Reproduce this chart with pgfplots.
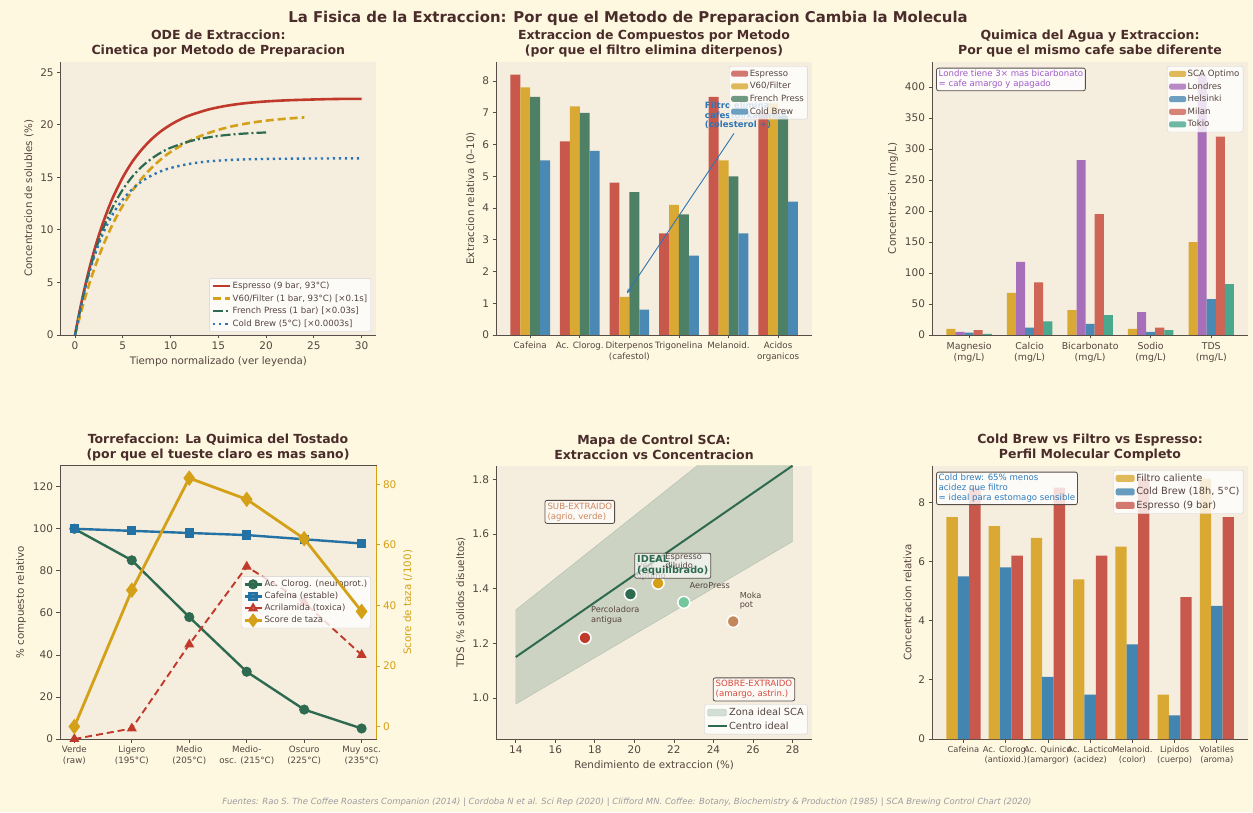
\documentclass[border=0pt]{standalone}
\usepackage{pgfplots}
\pgfplotsset{compat=1.18}
\usepackage{fontspec}
\setmainfont{DejaVu Sans}
\usetikzlibrary{arrows.meta}

\definecolor{figbg}{RGB}{254,248,225}
\definecolor{axbg}{RGB}{245,238,223}
\definecolor{titlec}{RGB}{74,44,42}
\definecolor{textc}{RGB}{85,68,63}
\definecolor{spinec}{RGB}{88,78,72}
\definecolor{footc}{RGB}{155,155,160}
\definecolor{lRed}{RGB}{192,57,43}
\definecolor{lGold}{RGB}{212,160,23}
\definecolor{lGreen}{RGB}{45,106,79}
\definecolor{lBlue}{RGB}{46,117,182}
\definecolor{lBlue2}{RGB}{36,113,163}
\definecolor{bRed}{RGB}{201,88,76}
\definecolor{bGold}{RGB}{217,169,51}
\definecolor{bGreen}{RGB}{78,128,102}
\definecolor{bBlue}{RGB}{74,137,179}
\definecolor{bPurple}{RGB}{167,110,185}
\definecolor{bTeal}{RGB}{74,168,142}
\definecolor{bRed3}{RGB}{206,101,86}
\definecolor{bBlue6}{RGB}{66,133,176}
\definecolor{annPurple}{RGB}{160,90,200}
\definecolor{annBlue}{RGB}{46,125,190}
\definecolor{pAero}{RGB}{116,198,157}
\definecolor{pMoka}{RGB}{196,135,90}
\definecolor{subc}{RGB}{205,135,95}
\definecolor{sobc}{RGB}{215,75,65}

\newcommand\fsTick{\fontsize{10.5}{12}\selectfont}
\newcommand\fsCat{\fontsize{8.7}{11}\selectfont}
\newcommand\fsLab{\fontsize{10.3}{12}\selectfont}
\newcommand\fsLeg{\fontsize{8.6}{10.2}\selectfont}
\newcommand\fsLegB{\fontsize{9.8}{11.5}\selectfont}
\newcommand\fsAnn{\fontsize{8.6}{9.9}\selectfont}
\newcommand\fsPt{\fontsize{8.2}{9.6}\selectfont}
\newcommand\fsTitle{\fontsize{12.5}{15}\selectfont\bfseries}
\newcommand\fsMain{\fontsize{14.9}{17}\selectfont\bfseries}
\newcommand\fsFoot{\fontsize{8.5}{10}\selectfont\itshape}

\pgfplotsset{
  base/.style={
    scale only axis, anchor=south west,
    width=316.3pt, height=273.3pt,
    axis background/.style={fill=axbg},
    axis line style={spinec, line width=0.9pt, -},
    tick style={spinec, line width=0.8pt},
    tick align=outside, major tick length=3.5pt,
    ticklabel style={text=textc, font=\fsTick},
    label style={text=textc, font=\fsLab},
    /pgf/number format/assume math mode=true,
    legend style={fill=white, fill opacity=0.8, text opacity=1, draw=black!18,
      rounded corners=2pt, font=\fsLeg, text=textc, inner sep=2pt,
      nodes={inner sep=1.6pt}, row sep=1.4pt},
    legend cell align=left,
    clip mode=individual,
  },
  open/.style={base, axis x line*=bottom, axis y line*=left},
  barleg/.style={legend image code/.code={\draw[##1, draw=none] (0pt,-3pt) rectangle (17pt,3pt);}},
  barlegB/.style={legend image code/.code={\draw[##1, draw=none] (0pt,-3.5pt) rectangle (19pt,3.5pt);}},
  zoneleg/.style={legend image code/.code={\draw[##1] (0pt,-3.5pt) rectangle (19pt,3.5pt);}},
  lineleg/.style={legend image code/.code={\draw[##1] (0pt,0pt) -- (19pt,0pt);}},
}

\begin{document}
\begin{tikzpicture}
\useasboundingbox (0,0) rectangle (1253pt,812pt);
\fill[figbg] (0,0) rectangle (1253pt,812pt);

% ---------------- Panel 1: ODE ----------------
\begin{axis}[open, at={(60.7pt,477pt)}, width=315.3pt,
  xmin=-1.5, xmax=31.5, ymin=0, ymax=26,
  xtick={0,5,10,15,20,25,30}, ytick={0,5,10,15,20,25},
  xlabel={Tiempo normalizado (ver leyenda)},
  ylabel={Concentracion de solubles (\%)},
  legend style={at={(0.984,0.012)}, anchor=south east}]
\addplot[lRed, line width=2.6pt, smooth] coordinates {(0,0) (0.5,2.35) (1,4.44) (1.5,6.33) (2,8.01) (2.5,9.51) (3,10.86) (3.5,12.07) (4,13.16) (5,15.0) (6,16.49) (7,17.66) (8,18.62) (9,19.39) (10,20.0) (11,20.5) (12,20.89) (14,21.46) (16,21.83) (18,22.07) (20,22.22) (22,22.32) (24,22.38) (26,22.43) (28,22.46) (30,22.47)};
\addplot[lGold, line width=2.6pt, smooth, dash pattern=on 8pt off 4pt] coordinates {(0,0) (1,3.40) (2,6.25) (3,8.64) (4,10.65) (5,12.32) (6,13.73) (7,14.91) (8,15.89) (9,16.72) (10,17.41) (12,18.48) (14,19.23) (16,19.76) (18,20.13) (20,20.39) (22,20.57) (24,20.70)};
\addplot[lGreen, line width=2.2pt, smooth, dash pattern=on 10pt off 3pt on 2pt off 3pt] coordinates {(0,0) (1,4.29) (2,7.63) (3,10.24) (4,12.26) (5,13.84) (6,15.07) (7,16.03) (8,16.77) (9,17.36) (10,17.81) (12,18.43) (14,18.81) (16,19.04) (18,19.18) (20,19.27)};
\addplot[lBlue, line width=2.4pt, smooth, dash pattern=on 2.4pt off 3.6pt] coordinates {(0,0) (1,4.25) (2,7.42) (3,9.80) (4,11.57) (5,12.89) (6,13.88) (7,14.62) (8,15.17) (9,15.58) (10,15.89) (12,16.29) (14,16.52) (16,16.64) (18,16.71) (20,16.75) (25,16.79) (30,16.80)};
\legend{{Espresso (9 bar, 93°C)}, {V60/Filter (1 bar, 93°C) [×0.1s]}, {French Press (1 bar) [×0.03s]}, {Cold Brew (5°C) [×0.0003s]}}
\end{axis}

% ---------------- Panel 2: compuestos ----------------
\begin{axis}[open, barleg, at={(496pt,477pt)},
  xmin=-0.69, xmax=5.69, ymin=0, ymax=8.61,
  xtick={0,1,2,3,4,5},
  xticklabels={Cafeina, Ac. Clorog., {Diterpenos\\(cafestol)}, Trigonelina, Melanoid., {Acidos\\organicos}},
  xticklabel style={align=center, font=\fsCat},
  ytick={0,1,2,3,4,5,6,7,8},
  ylabel={Extraccion relativa (0–10)},
  legend style={at={(0.985,0.984)}, anchor=north east}]
\addplot[ybar, bar width=0.2, bar shift=-0.3, fill=bRed, draw=none] coordinates {(0,8.2) (1,6.1) (2,4.8) (3,3.2) (4,7.5) (5,7.0)};
\addplot[ybar, bar width=0.2, bar shift=-0.1, fill=bGold, draw=none] coordinates {(0,7.8) (1,7.2) (2,1.2) (3,4.1) (4,5.5) (5,7.3)};
\addplot[ybar, bar width=0.2, bar shift=0.1, fill=bGreen, draw=none] coordinates {(0,7.5) (1,7.0) (2,4.5) (3,3.8) (4,5.0) (5,6.9)};
\addplot[ybar, bar width=0.2, bar shift=0.3, fill=bBlue, draw=none] coordinates {(0,5.5) (1,5.8) (2,0.8) (3,2.5) (4,3.2) (5,4.2)};
\draw[-{Stealth[length=5pt,width=4pt]}, lBlue, line width=0.9pt] (axis cs:4.11,6.35) -- (axis cs:1.95,1.31);
\node[anchor=north west, align=left, font=\fsAnn\bfseries, text=lBlue, inner sep=0pt] at (axis cs:3.52,7.36) {Filtro elimina\\cafestol/kahweol\\(colesterol +)};
\legend{Espresso, V60/Filter, French Press, Cold Brew}
\end{axis}

% ---------------- Panel 3: agua ----------------
\begin{axis}[open, barleg, at={(932pt,477pt)},
  xmin=-0.6125, xmax=4.6125, ymin=0, ymax=441,
  xtick={0,1,2,3,4},
  xticklabels={{Magnesio\\(mg/L)}, {Calcio\\(mg/L)}, {Bicarbonato\\(mg/L)}, {Sodio\\(mg/L)}, {TDS\\(mg/L)}},
  xticklabel style={align=center, font=\fontsize{9.4}{11}\selectfont},
  ytick={0,50,100,150,200,250,300,350,400},
  ylabel={Concentracion (mg/L)},
  legend style={at={(0.984,0.984)}, anchor=north east}]
\addplot[ybar, bar width=0.15, bar shift=-0.3, fill=bGold, draw=none] coordinates {(0,10) (1,68) (2,40) (3,10) (4,150)};
\addplot[ybar, bar width=0.15, bar shift=-0.15, fill=bPurple, draw=none] coordinates {(0,5) (1,118) (2,282) (3,37) (4,420)};
\addplot[ybar, bar width=0.15, bar shift=0, fill=bBlue, draw=none] coordinates {(0,4) (1,12) (2,18) (3,5) (4,58)};
\addplot[ybar, bar width=0.15, bar shift=0.15, fill=bRed3, draw=none] coordinates {(0,8) (1,85) (2,195) (3,12) (4,320)};
\addplot[ybar, bar width=0.15, bar shift=0.3, fill=bTeal, draw=none] coordinates {(0,2) (1,22) (2,32) (3,8) (4,82)};
\node[anchor=north west, align=left, font=\fsAnn, text=annPurple, draw=spinec, line width=0.8pt, fill=white, fill opacity=0.85, text opacity=1, rounded corners=2pt, inner sep=2.2pt] at (rel axis cs:0.013,0.978) {Londre tiene 3× mas bicarbonato\\= cafe amargo y apagado};
\legend{SCA Optimo, Londres, Helsinki, Milan, Tokio}
\end{axis}

% ---------------- Panel 4: torrefaccion ----------------
\begin{axis}[base, at={(60pt,73pt)}, width=316pt,
  xmin=-0.25, xmax=5.25, ymin=0, ymax=130,
  xtick={0,1,2,3,4,5}, xtick pos=bottom, ytick pos=left,
  xticklabels={{Verde\\(raw)}, {Ligero\\(195°C)}, {Medio\\(205°C)}, {Medio-\\osc. (215°C)}, {Oscuro\\(225°C)}, {Muy osc.\\(235°C)}},
  xticklabel style={align=center, font=\fsCat},
  ytick={0,20,40,60,80,100,120},
  ylabel={\% compuesto relativo},
  legend style={at={(0.984,0.5)}, anchor=east, row sep=0.8pt}]
\addplot[lGreen, line width=2.4pt, mark=*, mark size=3.8pt] coordinates {(0,100) (1,85) (2,58) (3,32) (4,14) (5,5)};
\addplot[lBlue2, line width=2.4pt, mark=square*, mark size=3.4pt] coordinates {(0,100) (1,99) (2,98) (3,97) (4,95) (5,93)};
\addplot[lRed, line width=1.9pt, dash pattern=on 7pt off 4pt, mark=triangle*, mark size=4pt, mark options={solid}] coordinates {(0,0) (1,5) (2,45) (3,82) (4,65) (5,40)};
\addlegendimage{lGold, line width=2.6pt, mark=diamond*, mark size=5pt}
\legend{{Ac. Clorog. (neuroprot.)}, {Cafeina (estable)}, {Acrilamida (toxica)}, {Score de taza}}
\end{axis}
\begin{axis}[base, at={(60pt,73pt)}, width=316pt,
  axis background/.style={draw=none, fill=none},
  axis x line=none, axis y line*=right,
  axis line style={lGold, line width=1pt, -},
  tick style={lGold, line width=0.8pt},
  yticklabel style={text=lGold},
  ylabel style={text=lGold},
  xmin=-0.25, xmax=5.25, ymin=-4.1, ymax=86.1,
  ytick={0,20,40,60,80},
  ylabel={Score de taza (/100)}]
\addplot[lGold, line width=2.8pt, mark=diamond*, mark size=5.5pt] coordinates {(0,0) (1,45) (2,82) (3,75) (4,62) (5,38)};
\end{axis}

% ---------------- Panel 5: SCA ----------------
\begin{axis}[open, at={(496pt,73pt)},
  xmin=13, xmax=29, ymin=0.85, ymax=1.85,
  xtick={14,16,18,20,22,24,26,28}, ytick={1.0,1.2,1.4,1.6,1.8},
  yticklabel style={/pgf/number format/.cd, fixed, fixed zerofill, precision=1},
  xlabel={Rendimiento de extraccion (\%)},
  ylabel={TDS (\% solidos disueltos)},
  legend style={at={(0.985,0.017)}, anchor=south east, font=\fsLegB}]
\addplot[fill=lGreen, fill opacity=0.2, draw=lGreen, draw opacity=0.25, zoneleg] coordinates {(14,0.9775) (28,1.5725) (28,2.1275) (14,1.3225) (14,0.9775)};
\addplot[lGreen, line width=2pt, lineleg] coordinates {(14,1.15) (28,1.85)};
\addplot[only marks, mark=*, mark size=6pt, mark options={fill=lRed, draw=white, line width=1.5pt}, forget plot] coordinates {(17.5,1.22)};
\addplot[only marks, mark=*, mark size=6pt, mark options={fill=lGreen, draw=white, line width=1.5pt}, forget plot] coordinates {(19.8,1.38)};
\addplot[only marks, mark=*, mark size=6pt, mark options={fill=lGold, draw=white, line width=1.5pt}, forget plot] coordinates {(21.2,1.42)};
\addplot[only marks, mark=*, mark size=6pt, mark options={fill=pAero, draw=white, line width=1.5pt}, forget plot] coordinates {(22.5,1.35)};
\addplot[only marks, mark=*, mark size=6pt, mark options={fill=pMoka, draw=white, line width=1.5pt}, forget plot] coordinates {(25.0,1.28)};
\node[anchor=north west, align=left, font=\fsPt, text=textc, inner sep=0pt] at (axis cs:17.8,1.335) {Percoladora\\antigua};
\node[anchor=north west, align=left, font=\fsPt, text=textc, inner sep=0pt] at (axis cs:20.12,1.495) {V60\\optimo};
\node[anchor=north west, align=left, font=\fsPt, text=textc, inner sep=0pt] at (axis cs:22.78,1.424) {AeroPress};
\node[anchor=north west, align=left, font=\fsPt, text=textc, inner sep=0pt] at (axis cs:25.32,1.388) {Moka\\pot};
\node[align=left, font=\fontsize{9.7}{11}\selectfont\bfseries, text=lGreen, draw=spinec, line width=0.8pt, fill=white, fill opacity=0.65, text opacity=1, rounded corners=2pt, inner sep=2.5pt] at (axis cs:21.94,1.484) {IDEAL\\(equilibrado)};
\node[anchor=north west, align=left, font=\fsPt, text=textc, inner sep=0pt] at (axis cs:21.56,1.531) {Espresso\\diluido};
\node[align=left, font=\fsAnn, text=subc, draw=spinec, line width=0.8pt, fill=white, fill opacity=0.7, text opacity=1, rounded corners=2pt, inner sep=2.5pt] at (axis cs:17.24,1.681) {SUB-EXTRAIDO\\(agrio, verde)};
\node[align=left, font=\fsAnn, text=sobc, draw=spinec, line width=0.8pt, fill=white, fill opacity=0.7, text opacity=1, rounded corners=2pt, inner sep=2.5pt] at (axis cs:26.05,1.0315) {SOBRE-EXTRAIDO\\(amargo, astrin.)};
\legend{Zona ideal SCA, Centro ideal}
\end{axis}

% ---------------- Panel 6: perfil ----------------
\begin{axis}[open, barlegB, at={(932pt,73pt)},
  xmin=-0.745, xmax=6.745, ymin=0, ymax=9.24,
  xtick={0,1,2,3,4,5,6},
  xticklabels={Cafeina, {Ac. Clorog.\\(antioxid.)}, {Ac. Quinico\\(amargor)}, {Ac. Lactico\\(acidez)}, {Melanoid.\\(color)}, {Lipidos\\(cuerpo)}, {Volatiles\\(aroma)}},
  xticklabel style={align=center, font=\fontsize{8.3}{10}\selectfont},
  ytick={0,2,4,6,8},
  ylabel={Concentracion relativa},
  legend style={at={(0.984,0.984)}, anchor=north east, font=\fsLegB}]
\addplot[ybar, bar width=0.27, bar shift=-0.27, fill=bGold, draw=none] coordinates {(0,7.5) (1,7.2) (2,6.8) (3,5.4) (4,6.5) (5,1.5) (6,8.8)};
\addplot[ybar, bar width=0.27, bar shift=0, fill=bBlue6, draw=none] coordinates {(0,5.5) (1,5.8) (2,2.1) (3,1.5) (4,3.2) (5,0.8) (6,4.5)};
\addplot[ybar, bar width=0.27, bar shift=0.27, fill=bRed, draw=none] coordinates {(0,8.5) (1,6.2) (2,8.5) (3,6.2) (4,8.8) (5,4.8) (6,7.5)};
\node[anchor=north west, align=left, font=\fsAnn, text=annBlue, draw=spinec, line width=0.8pt, fill=white, fill opacity=0.8, text opacity=1, rounded corners=2pt, inner sep=2.2pt] at (rel axis cs:0.013,0.978) {Cold brew: 65\% menos\\acidez que filtro\\= ideal para estomago sensible};
\legend{Filtro caliente, {Cold Brew (18h, 5°C)}, Espresso (9 bar)}
\end{axis}

% ---------------- titles ----------------
\node[font=\fsMain, text=titlec] at (628pt,794pt) {La Fisica de la Extraccion: Por que el Metodo de Preparacion Cambia la Molecula};
\node[font=\fsTitle, text=titlec, align=center] at (218.3pt,768.8pt) {ODE de Extraccion:\\Cinetica por Metodo de Preparacion};
\node[font=\fsTitle, text=titlec, align=center] at (654pt,768.8pt) {Extraccion de Compuestos por Metodo\\(por que el filtro elimina diterpenos)};
\node[font=\fsTitle, text=titlec, align=center] at (1090pt,768.8pt) {Quimica del Agua y Extraccion:\\Por que el mismo cafe sabe diferente};
\node[font=\fsTitle, text=titlec, align=center] at (218pt,364.5pt) {Torrefaccion: La Quimica del Tostado\\(por que el tueste claro es mas sano)};
\node[font=\fsTitle, text=titlec, align=center] at (654pt,364.5pt) {Mapa de Control SCA:\\Extraccion vs Concentracion};
\node[font=\fsTitle, text=titlec, align=center] at (1090pt,364.5pt) {Cold Brew vs Filtro vs Espresso:\\Perfil Molecular Completo};
\node[font=\fsFoot, text=footc] at (627pt,10pt) {Fuentes: Rao S. The Coffee Roasters Companion (2014) | Cordoba N et al. Sci Rep (2020) | Clifford MN. Coffee: Botany, Biochemistry \& Production (1985) | SCA Brewing Control Chart (2020)};
\end{tikzpicture}
\end{document}
